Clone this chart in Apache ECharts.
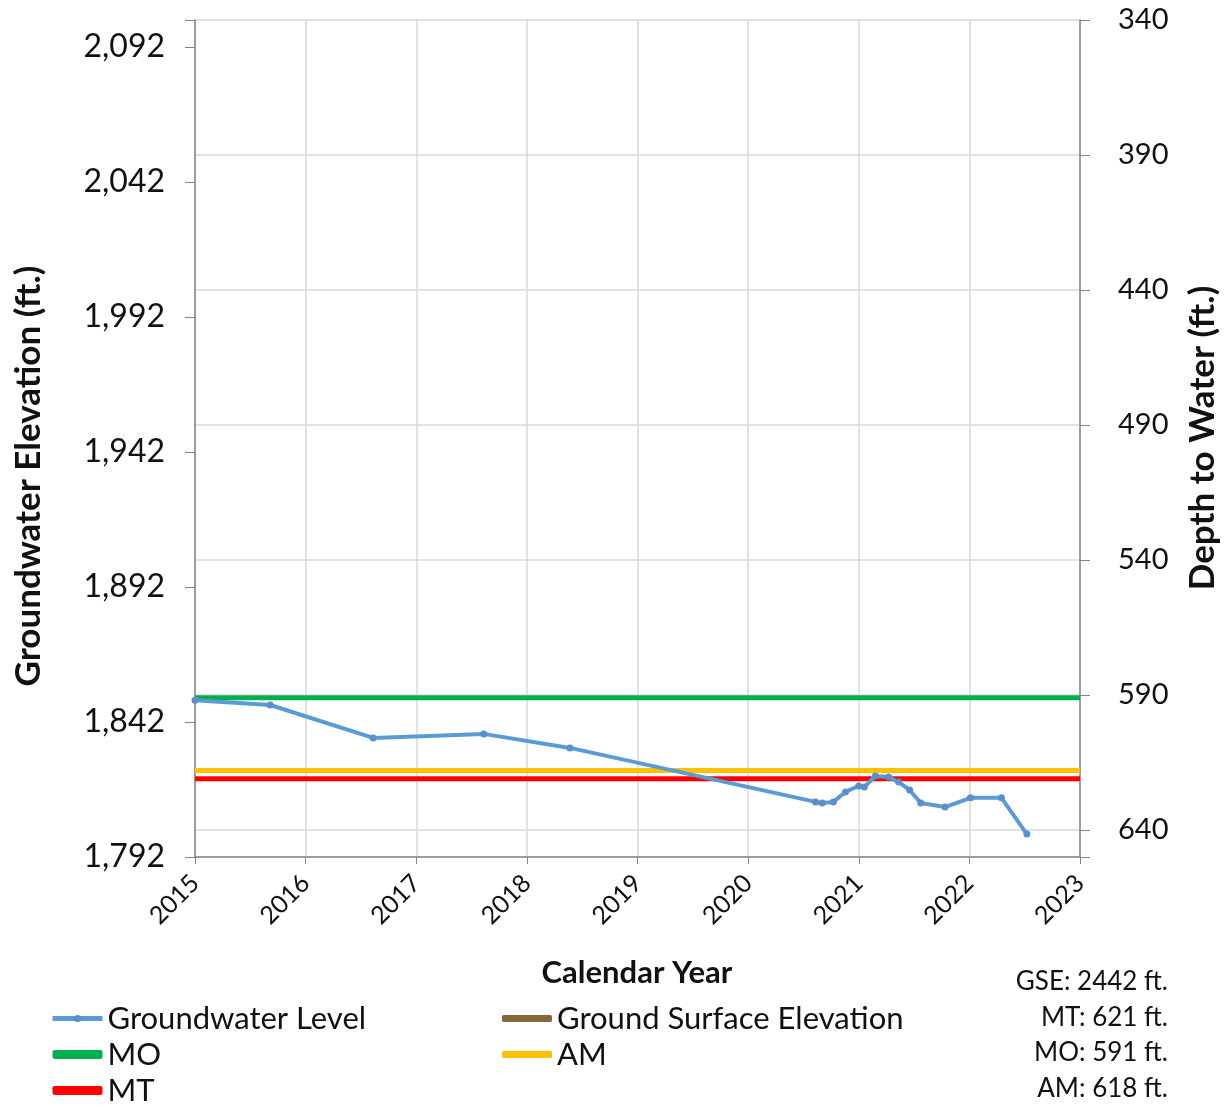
<!DOCTYPE html>
<html><head><meta charset="utf-8">
<script src="https://cdn.jsdelivr.net/npm/echarts@6/dist/echarts.min.js"></script>
<style>html,body{margin:0;padding:0;background:#fff}#c{width:1231px;height:1108px}</style>
</head><body><div id="c"></div>
<script>
// Decimal calendar years of each measurement
const gwYears = [2015.00, 2015.68, 2016.61, 2017.61, 2018.39, 2020.61, 2020.67, 2020.77, 2020.88, 2021.00, 2021.05, 2021.15, 2021.27, 2021.36, 2021.46, 2021.56, 2021.78, 2022.01, 2022.29, 2022.52];
// Groundwater elevation (ft.)
const gwElev = [1850.1, 1848.3, 1836.1, 1837.6, 1832.4, 1812.4, 1812.0, 1812.4, 1816.1, 1818.3, 1817.9, 1822.0, 1821.6, 1819.8, 1816.8, 1812.0, 1810.5, 1813.9, 1813.9, 1800.5];
const GSE = 2442;
const MT_DEPTH = 621, MO_DEPTH = 591, AM_DEPTH = 618;
const xRange = [2015, 2023];
const elevAxis = {min: 1792, max: 2102, step: 50};
const depthAxis = {min: 340, max: 650, step: 50};
const notes = ['GSE: 2442 ft.', 'MT: 621 ft.', 'MO: 591 ft.', 'AM: 618 ft.'];

const FONT = 'Lato';
const axisColor = '#868686';
const gridColor = '#d9d9d9';

const hline = (name, elev, color) => ({
  name, type: 'line', yAxisIndex: 0, data: [[xRange[0], elev], [xRange[1], elev]],
  symbol: 'none', lineStyle: {color, width: 5}, itemStyle: {color}, z: 3, clip: true
});

const legendText = {fontSize: 31, fontFamily: FONT, color: '#111', lineHeight: 30};
const bar = name => ({name, icon: 'roundRect'});

const chart = echarts.init(document.getElementById('c'), null, {renderer: 'canvas'});
chart.setOption({
  animation: false,
  backgroundColor: '#fff',
  textStyle: {fontFamily: FONT},
  grid: {left: 195, right: 151, top: 20, bottom: 251, containLabel: false},
  xAxis: {
    type: 'value', min: xRange[0], max: xRange[1], interval: 1,
    axisLine: {show: true, lineStyle: {color: axisColor, width: 1.5}},
    axisTick: {show: true, length: 7, lineStyle: {color: axisColor}},
    axisLabel: {rotate: 45, fontSize: 25, color: '#111', fontFamily: FONT, margin: 22, formatter: v => String(v)},
    splitLine: {show: true, lineStyle: {color: gridColor, width: 1.5}}
  },
  yAxis: [{
    type: 'value', min: elevAxis.min, max: elevAxis.max, interval: elevAxis.step, position: 'left',
    axisLine: {show: true, lineStyle: {color: axisColor, width: 1.5}},
    axisTick: {show: true, length: 10, lineStyle: {color: axisColor}},
    axisLabel: {fontSize: 32, color: '#111', fontFamily: FONT, margin: 30,
      formatter: v => ((v - elevAxis.min) % elevAxis.step === 0 ? v.toLocaleString('en-US') : '')},
    splitLine: {show: false}
  }, {
    type: 'value', min: depthAxis.min, max: depthAxis.max, interval: depthAxis.step, inverse: true, position: 'right',
    axisLine: {show: true, lineStyle: {color: axisColor, width: 1.5}},
    axisTick: {show: true, length: 10, lineStyle: {color: axisColor}},
    axisLabel: {fontSize: 29, color: '#111', fontFamily: FONT, margin: 38,
      formatter: v => ((v - depthAxis.min) % depthAxis.step === 0 ? String(v) : '')},
    splitLine: {show: true, lineStyle: {color: gridColor, width: 1.5}}
  }],
  legend: [{
    data: [{name: 'Groundwater Level', lineStyle: {width: 5}}, bar('MO'), bar('MT')], orient: 'vertical', left: 50, top: 1003,
    padding: 0, itemWidth: 50, itemHeight: 9, itemGap: 5, textStyle: legendText
  }, {
    data: [bar('Ground Surface Elevation'), bar('AM')], orient: 'vertical', left: 502, top: 1003,
    padding: 0, itemWidth: 50, itemHeight: 7, itemGap: 5, textStyle: legendText
  }],
  graphic: [
    {type: 'text', x: 29, y: 476, rotation: Math.PI / 2,
      style: {text: 'Groundwater Elevation (ft.)', font: 'bold 35px ' + FONT, fill: '#111', textAlign: 'center', textVerticalAlign: 'middle'}},
    {type: 'text', x: 1203, y: 438, rotation: Math.PI / 2,
      style: {text: 'Depth to Water (ft.)', font: 'bold 35px ' + FONT, fill: '#111', textAlign: 'center', textVerticalAlign: 'middle'}},
    {type: 'text', x: 637, y: 973,
      style: {text: 'Calendar Year', font: 'bold 31px ' + FONT, fill: '#111', textAlign: 'center', textVerticalAlign: 'middle'}}
  ].concat(notes.map((t, i) => ({
    type: 'text', x: 1168, y: 982 + i * 35.5,
    style: {text: t, font: '26px ' + FONT, fill: '#111', textAlign: 'right', textVerticalAlign: 'middle'}
  }))),
  series: [
    {
      name: 'Groundwater Level', type: 'line', yAxisIndex: 0,
      data: gwYears.map((x, i) => [x, gwElev[i]]),
      symbol: 'circle', symbolSize: 7, showSymbol: true,
      lineStyle: {color: '#5b9bd5', width: 4}, itemStyle: {color: '#5b8fc9'}, z: 5
    },
    hline('Ground Surface Elevation', GSE, '#85673a'),
    hline('MO', GSE - MO_DEPTH, '#00b050'),
    hline('AM', GSE - AM_DEPTH, '#ffc000'),
    hline('MT', GSE - MT_DEPTH, '#ff0000')
  ]
});
</script></body></html>
